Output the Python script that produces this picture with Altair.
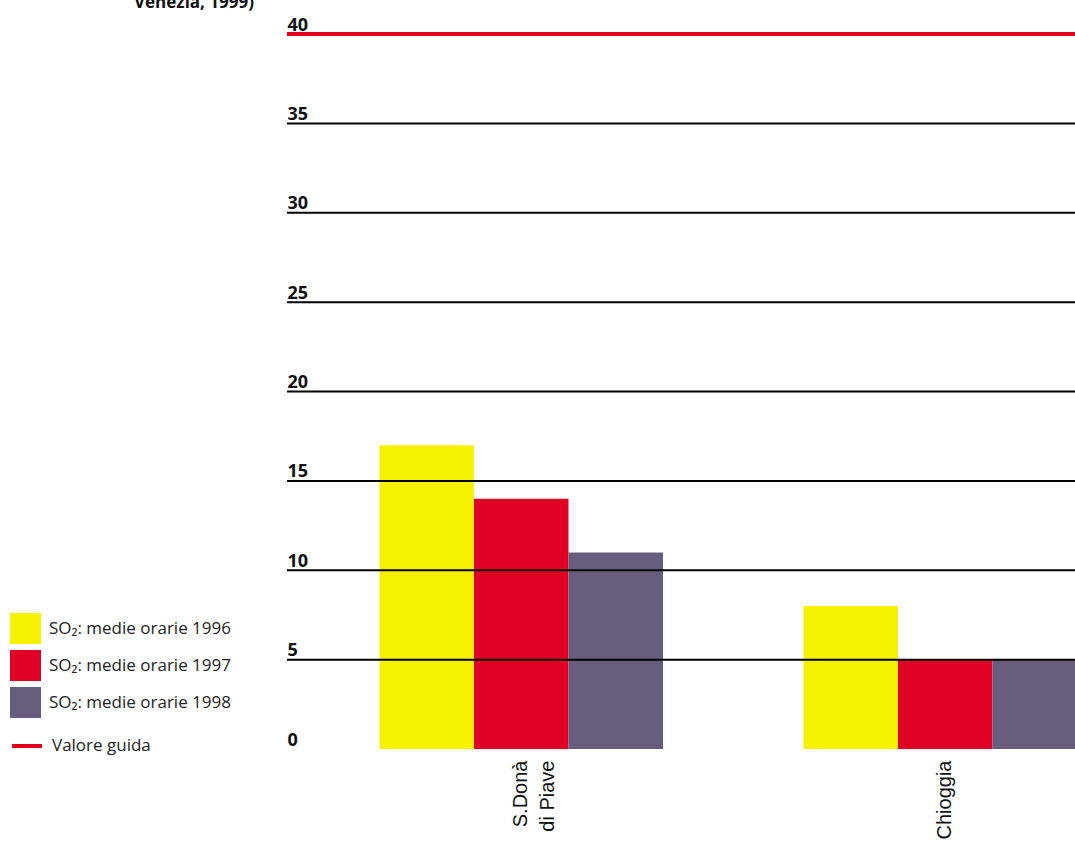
import altair as alt
import pandas as pd

stations = ["S.Donà\ndi Piave", "Chioggia"]
years = ["SO₂: medie orarie 1996", "SO₂: medie orarie 1997", "SO₂: medie orarie 1998"]
values_1996 = [17, 8]
values_1997 = [14, 5]
values_1998 = [11, 5]
colors = ["#F5F100", "#E00025", "#685D7C"]
guide_value = 40
guide_label = "Valore guida"
guide_color = "#E2001A"
grid_values = [5, 10, 15, 20, 25, 30, 35]
tick_values = [0, 5, 10, 15, 20, 25, 30, 35, 40]
title_lines = ["grafico 3.19", "Valore Guida per SO₂ (µg/mg)", "per le stazioni in ambito",
               "provinciale (Provincia di", "Venezia, 1999)"]

W, H = 800, 715
rows = []
for s_i, st in enumerate(stations):
    for yr, vals in zip(years, [values_1996, values_1997, values_1998]):
        rows.append({"station": st, "year": yr, "value": vals[s_i]})
df = pd.DataFrame(rows)

yscale = alt.Scale(domain=[0, 40], nice=False, zero=True)
xscale = alt.Scale(domain=stations, paddingInner=0.3314, paddingOuter=0.1091, align=1)

bars = alt.Chart(df).mark_bar().encode(
    x=alt.X("station:N", scale=xscale, axis=alt.Axis(
        title=None, domain=False, ticks=False, labelAngle=270, labelAlign="right",
        labelBaseline="middle", labelPadding=11, labelExpr="split(datum.label, '\\n')",
        labelFont="Liberation Sans", labelFontSize=20, labelLineHeight=27, labelLimit=300,
        labelColor="#111111")),
    xOffset=alt.XOffset("year:N", scale=alt.Scale(domain=years)),
    y=alt.Y("value:Q", scale=yscale, axis=alt.Axis(
        values=tick_values, domain=False, ticks=False, grid=False, title=None,
        labelAlign="left", labelBaseline="bottom", labelPadding=0, labelFlush=False,
        labelFont="Open Sans", labelFontSize=18, labelFontWeight="bold", labelColor="#111111")),
    color=alt.Color("year:N", scale=alt.Scale(domain=years, range=colors), legend=alt.Legend(
        title=None, orient="none", legendX=-277, legendY=579, symbolType="square", symbolSize=961,
        symbolStrokeWidth=0, symbolOpacity=1, labelOffset=8, rowPadding=6, labelLimit=300,
        labelFont="Open Sans", labelFontSize=17, labelColor="#222222", padding=0)),
)

grid = alt.Chart(pd.DataFrame({"v": grid_values})).mark_rule(color="#000000", strokeWidth=2).encode(
    y=alt.Y("v:Q", scale=yscale))

guide = alt.Chart(pd.DataFrame({"v": [guide_value], "label": [guide_label]})).mark_rule(strokeWidth=4).encode(
    y=alt.Y("v:Q", scale=yscale),
    stroke=alt.Stroke("label:N", scale=alt.Scale(domain=[guide_label], range=[guide_color]), legend=alt.Legend(
        title=None, orient="none", legendX=-277, legendY=695, symbolType="stroke", symbolSize=900,
        symbolStrokeWidth=4, labelOffset=8, labelLimit=300,
        labelFont="Open Sans", labelFontSize=17, labelColor="#222222", padding=0)),
)

chart = alt.layer(bars, grid, guide).properties(
    width=W, height=H,
    title=alt.TitleParams(text=title_lines, orient="top", anchor="start", frame="group",
                          align="right", baseline="top", dx=-33, offset=4, lineHeight=26.5,
                          font="Open Sans", fontSize=17, fontWeight="bold", color="#111111"),
    autosize=alt.AutoSizeParams(type="none"),
    padding={"left": 287, "top": 34, "right": -12, "bottom": 94},
    background="#ffffff",
).configure_view(stroke=None)

chart.save("out.html", embed_options={"renderer": "svg", "actions": False})
